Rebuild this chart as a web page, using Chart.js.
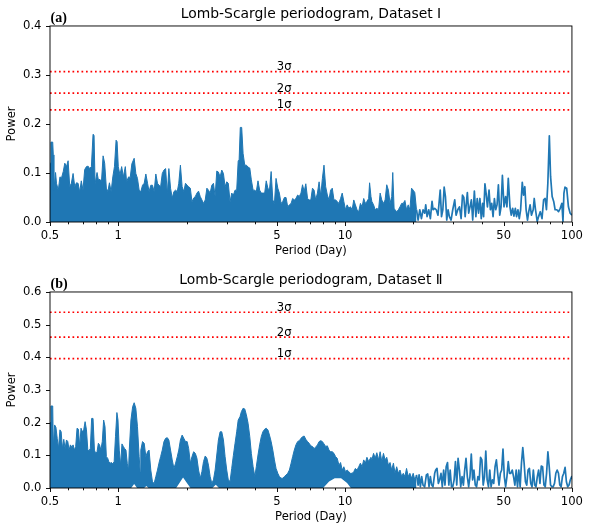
<!DOCTYPE html>
<html><head><meta charset="utf-8">
<script src="https://cdn.jsdelivr.net/npm/chart.js@4.4.1/dist/chart.umd.min.js"></script>
<style>
html,body{margin:0;padding:0;background:#fff;}
#wrap{position:relative;width:590px;height:527px;overflow:hidden;}
canvas{position:absolute;left:0;}
#cA{top:0;} #cB{top:266px;}
</style></head><body>
<div id="wrap"><canvas id="cA" width="590" height="261"></canvas><canvas id="cB" width="590" height="261"></canvas></div>
<script>
// ---- axis ticks / labels ----
const majorTicks = [0.5, 1, 5, 10, 50, 100];
const minorTicks = [0.6, 0.7, 0.8, 0.9, 2, 3, 4, 6, 7, 8, 9, 20, 30, 40, 60, 70, 80, 90];
const sigmaLabels = ['1σ', '2σ', '3σ'];
const titleA = 'Lomb-Scargle periodogram, Dataset Ⅰ';
const titleB = 'Lomb-Scargle periodogram, Dataset Ⅱ';

// ---- Dataset I : significance levels ----
const sigmaA = [0.229, 0.263, 0.307];
// dense part (0.5 - 20.6 d), periods and power
const periodFillA = [0.500,0.505,0.514,0.517,0.520,0.529,0.534,0.544,0.553,0.562,0.572,0.581,0.591,0.601,0.611,0.621,0.632,0.643,0.654,0.665,0.676,0.687,0.699,0.711,0.724,0.736,0.748,0.761,0.774,0.782,0.790,0.806,0.817,0.830,0.843,0.857,0.871,0.886,0.900,0.914,0.930,0.946,0.962,0.978,0.988,1.000,1.017,1.035,1.053,1.074,1.088,1.110,1.129,1.148,1.175,1.195,1.215,1.236,1.257,1.279,1.301,1.323,1.346,1.367,1.391,1.415,1.439,1.464,1.489,1.511,1.537,1.563,1.590,1.617,1.645,1.671,1.700,1.729,1.759,1.789,1.820,1.848,1.879,1.912,1.945,1.978,2.012,2.043,2.078,2.113,2.149,2.186,2.222,2.259,2.298,2.337,2.376,2.417,2.458,2.498,2.541,2.584,2.628,2.673,2.718,2.763,2.811,2.859,2.908,2.957,3.007,3.055,3.110,3.163,3.217,3.272,3.327,3.378,3.410,3.450,3.500,3.550,3.610,3.670,3.735,3.800,3.860,3.930,4.000,4.060,4.130,4.200,4.270,4.340,4.420,4.490,4.567,4.640,4.720,4.800,4.880,4.960,5.050,5.130,5.220,5.310,5.400,5.490,5.584,5.680,5.780,5.870,5.970,6.070,6.175,6.280,6.390,6.490,6.600,6.710,6.830,6.940,7.060,7.180,7.300,7.420,7.550,7.680,7.810,7.940,8.070,8.210,8.350,8.490,8.630,8.780,8.930,9.080,9.230,9.390,9.550,9.710,9.870,10.04,10.21,10.38,10.56,10.74,10.92,11.10,11.29,11.48,11.68,11.88,12.08,12.28,12.48,12.70,12.82,13.00,13.12,13.35,13.57,13.80,14.04,14.27,14.51,14.76,15.01,15.26,15.52,15.78,16.05,16.22,16.44,16.60,16.88,17.17,17.46,17.75,18.05,18.35,18.66,18.98,19.30,19.63,19.96,20.29,20.64];
const powerFillA = [0.120,0.163,0.163,0.137,0.065,0.101,0.079,0.065,0.092,0.090,0.103,0.120,0.113,0.125,0.072,0.079,0.099,0.072,0.080,0.079,0.061,0.084,0.065,0.107,0.113,0.114,0.109,0.113,0.179,0.177,0.078,0.101,0.086,0.087,0.082,0.135,0.120,0.069,0.062,0.080,0.062,0.092,0.113,0.167,0.164,0.113,0.096,0.113,0.092,0.113,0.082,0.092,0.091,0.119,0.130,0.099,0.089,0.065,0.062,0.075,0.079,0.098,0.079,0.062,0.075,0.075,0.062,0.098,0.079,0.075,0.072,0.099,0.106,0.109,0.057,0.109,0.069,0.049,0.062,0.065,0.062,0.079,0.116,0.072,0.062,0.079,0.075,0.072,0.069,0.041,0.049,0.052,0.059,0.063,0.052,0.045,0.038,0.045,0.069,0.065,0.059,0.075,0.079,0.052,0.104,0.102,0.092,0.106,0.099,0.072,0.082,0.079,0.041,0.059,0.055,0.065,0.065,0.125,0.126,0.193,0.193,0.140,0.116,0.116,0.112,0.110,0.086,0.065,0.065,0.062,0.084,0.065,0.059,0.059,0.059,0.084,0.069,0.065,0.103,0.045,0.038,0.089,0.069,0.059,0.038,0.042,0.050,0.050,0.031,0.035,0.038,0.048,0.045,0.048,0.055,0.052,0.059,0.076,0.062,0.078,0.048,0.045,0.045,0.069,0.065,0.045,0.059,0.082,0.053,0.089,0.116,0.072,0.055,0.045,0.065,0.069,0.045,0.045,0.042,0.038,0.048,0.059,0.042,0.025,0.035,0.028,0.031,0.025,0.045,0.035,0.025,0.021,0.038,0.031,0.048,0.038,0.042,0.048,0.080,0.052,0.042,0.035,0.025,0.028,0.025,0.059,0.045,0.038,0.045,0.076,0.065,0.038,0.052,0.101,0.028,0.025,0.021,0.025,0.031,0.038,0.038,0.044,0.025,0.035,0.025,0.069,0.065,0.060,0.025];
// resolved part (20.6 - 100 d)
const periodLineA = [20.64,20.98,21.34,21.70,22.07,22.44,22.67,22.98,23.37,23.76,24.17,24.42,24.83,25.23,25.67,26.26,26.61,26.97,27.33,27.69,28.06,28.44,28.82,29.32,29.82,30.43,30.85,31.38,31.92,32.47,32.92,33.37,33.83,34.12,34.59,35.06,35.54,36.03,36.52,37.14,37.72,38.24,38.76,39.29,39.83,40.38,40.79,41.35,41.83,42.41,43.10,43.70,44.30,44.90,45.52,46.13,46.76,47.40,48.05,48.70,49.37,50.17,51.0,51.7,52.4,53.3,54.0,54.8,55.5,56.3,57.0,57.8,58.6,59.4,60.4,61.2,62.0,62.8,63.7,64.5,65.4,66.3,67.5,68.2,69.1,70.3,71.3,72.5,73.8,75.0,76.2,77.2,78.3,79.5,80.5,81.8,83.1,84.3,85.8,87.3,88.8,90.3,91.3,92.2,93.2,94.8,96.5,98.2,100];
const powerLineA = [0.025,0.004,0.025,0.007,0.025,0.018,0.035,0.011,0.025,0.007,0.042,0.025,0.028,0.025,0.014,0.065,0.011,0.025,0.071,0.052,0.004,0.025,0.011,0.004,0.025,0.045,0.014,0.025,0.031,0.007,0.055,0.050,0.011,0.031,0.060,0.018,0.031,0.045,0.004,0.063,0.011,0.048,0.018,0.048,0.007,0.038,0.011,0.078,0.059,0.031,0.065,0.025,0.038,0.011,0.048,0.025,0.035,0.076,0.014,0.031,0.095,0.031,0.052,0.031,0.089,0.031,0.014,0.028,0.012,0.028,0.011,0.025,0.007,0.025,0.081,0.055,0.072,0.025,0.004,0.021,0.035,0.014,0.025,0.048,0.025,0.001,0.011,0.021,0.007,0.045,0.048,0.025,0.079,0.176,0.093,0.052,0.042,0.025,0.025,0.021,0.028,0.038,0.001,0.059,0.071,0.069,0.031,0.018,0.014];

// ---- Dataset II ----
const sigmaB = [0.396, 0.462, 0.538];
const periodFillB = [0.500,0.505,0.514,0.517,0.524,0.531,0.538,0.545,0.553,0.560,0.567,0.575,0.583,0.591,0.599,0.607,0.615,0.624,0.632,0.641,0.649,0.658,0.667,0.676,0.685,0.694,0.704,0.714,0.724,0.734,0.742,0.753,0.763,0.774,0.785,0.795,0.806,0.817,0.827,0.838,0.850,0.862,0.874,0.886,0.898,0.908,0.921,0.934,0.946,0.959,0.972,0.986,0.997,1.010,1.024,1.038,1.053,1.066,1.081,1.096,1.110,1.118,1.137,1.157,1.175,1.195,1.215,1.236,1.249,1.257,1.279,1.301,1.323,1.346,1.367,1.391,1.415,1.439,1.464,1.489,1.511,1.537,1.563,1.590,1.617,1.645,1.671,1.700,1.729,1.759,1.789,1.820,1.848,1.879,1.912,1.945,1.978,2.012,2.043,2.078,2.113,2.149,2.186,2.222,2.259,2.298,2.337,2.376,2.417,2.458,2.498,2.541,2.584,2.628,2.673,2.718,2.763,2.811,2.859,2.908,2.957,3.007,3.055,3.110,3.163,3.217,3.272,3.327,3.378,3.440,3.490,3.550,3.610,3.670,3.735,3.800,3.860,3.930,4.000,4.060,4.130,4.200,4.270,4.340,4.420,4.490,4.567,4.640,4.720,4.800,4.880,4.960,5.050,5.130,5.220,5.310,5.400,5.490,5.584,5.680,5.780,5.870,5.970,6.070,6.175,6.280,6.390,6.490,6.600,6.710,6.830,6.940,7.060,7.180,7.300,7.420,7.550,7.680,7.810,7.940,8.070,8.210,8.350,8.490,8.630,8.780,8.930,9.080,9.230,9.390,9.550,9.710,9.870,10.04,10.21,10.38,10.56,10.74,10.92,11.10,11.29,11.48,11.68,11.88,12.08,12.28,12.48,12.70,13.00,13.12,13.35,13.57,13.80,14.04,14.27,14.51,14.76,15.01,15.26,15.52,15.78,16.05,16.33,16.60,16.88,17.17,17.46,17.75,18.05,18.35,18.66,18.98,19.30,19.63,19.96,20.29,20.64];
const powerFillB = [0.200,0.251,0.251,0.126,0.193,0.186,0.152,0.121,0.178,0.172,0.121,0.149,0.121,0.147,0.142,0.116,0.132,0.125,0.132,0.116,0.127,0.183,0.180,0.127,0.183,0.172,0.178,0.203,0.178,0.116,0.114,0.121,0.213,0.213,0.116,0.106,0.111,0.137,0.132,0.116,0.142,0.208,0.188,0.096,0.091,0.081,0.076,0.078,0.074,0.081,0.157,0.231,0.208,0.116,0.070,0.135,0.127,0.121,0.116,0.074,0.055,0.116,0.208,0.249,0.261,0.244,0.188,0.096,0.050,0.116,0.142,0.137,0.096,0.111,0.116,0.055,0.019,0.014,0.035,0.055,0.076,0.096,0.116,0.142,0.152,0.154,0.147,0.116,0.086,0.060,0.076,0.096,0.116,0.147,0.162,0.152,0.142,0.142,0.121,0.076,0.096,0.111,0.106,0.091,0.055,0.030,0.050,0.081,0.098,0.091,0.070,0.035,0.014,0.025,0.055,0.101,0.147,0.172,0.172,0.147,0.096,0.055,0.025,0.020,0.060,0.100,0.137,0.172,0.208,0.218,0.234,0.244,0.242,0.224,0.198,0.157,0.106,0.065,0.035,0.065,0.101,0.132,0.157,0.172,0.180,0.183,0.178,0.162,0.142,0.116,0.086,0.060,0.045,0.035,0.030,0.030,0.035,0.040,0.045,0.055,0.076,0.096,0.116,0.132,0.142,0.145,0.152,0.157,0.159,0.149,0.142,0.137,0.129,0.127,0.121,0.125,0.132,0.142,0.145,0.142,0.135,0.127,0.129,0.116,0.111,0.111,0.106,0.096,0.091,0.070,0.078,0.055,0.065,0.050,0.055,0.050,0.045,0.045,0.050,0.060,0.055,0.065,0.076,0.065,0.086,0.076,0.094,0.081,0.094,0.086,0.106,0.091,0.108,0.086,0.111,0.081,0.106,0.086,0.094,0.070,0.078,0.055,0.076,0.045,0.065,0.045,0.055,0.035,0.045,0.035,0.060,0.035,0.045,0.030,0.045,0.025,0.040];
// lower edge of the dense band (where minima lift off zero)
const periodFloorB = [0.50,1.14,1.175,1.21,1.30,1.33,1.36,1.80,1.93,2.08,2.60,2.69,2.78,8.00,8.50,9.00,9.60,10.20,10.60,20.64];
const powerFloorB  = [0,0,0.012,0,0,0.006,0,0,0.032,0,0,0.010,0,0,0.020,0.030,0.030,0.015,0,0];
const periodLineB = [20.64,20.98,21.19,21.47,21.76,22.06,22.43,22.82,23.13,23.44,23.76,24.08,24.41,24.83,25.08,25.42,25.77,26.11,26.47,26.82,27.19,27.56,27.90,28.28,28.66,29.05,29.44,29.83,30.24,30.65,31.06,31.48,31.91,32.34,32.78,33.22,33.67,34.12,34.58,35.05,35.52,36.00,36.49,36.98,37.48,37.99,38.50,39.02,39.55,40.08,40.62,41.17,41.71,42.28,42.85,43.43,44.01,44.61,45.21,45.82,46.44,47.06,47.70,48.35,49.00,49.66,50.33,51.01,51.70,52.40,53.10,53.82,54.55,55.28,56.03,56.78,57.55,58.33,59.11,59.91,60.72,61.54,62.37,63.21,64.07,64.93,65.81,66.69,67.59,68.51,69.43,70.37,71.32,72.28,73.26,74.25,75.25,76.27,77.30,78.35,79.41,80.48,81.57,82.67,83.79,84.92,86.07,87.23,88.41,89.60,90.81,92.04,93.28,94.54,95.81,97.11,98.42,99.75,100];
const powerLineB = [0.040,0.009,0.040,0.004,0.035,0.009,0.004,0.040,0.043,0.004,0.035,0.009,0.004,0.045,0.055,0.060,0.014,0.025,0.045,0.004,0.055,0.009,0.065,0.078,0.009,0.055,0.004,0.004,0.025,0.081,0.009,0.091,0.055,0.004,0.035,0.009,0.055,0.091,0.035,0.004,0.035,0.104,0.025,0.055,0.009,0.004,0.035,0.025,0.094,0.086,0.009,0.035,0.113,0.025,0.004,0.055,0.004,0.025,0.014,0.065,0.086,0.045,0.009,0.045,0.055,0.119,0.035,0.004,0.035,0.081,0.045,0.045,0.055,0.035,0.009,0.055,0.004,0.055,0.004,0.076,0.124,0.076,0.019,0.009,0.055,0.060,0.014,0.004,0.055,0.009,0.004,0.035,0.055,0.014,0.067,0.065,0.009,0.004,0.045,0.111,0.065,0.009,0.004,0.004,0.014,0.045,0.055,0.045,0.009,0.004,0.035,0.045,0.063,0.019,0.004,0.009,0.025,0.035,0.030];

// ---------------------------------------------------------------
const BLUE = '#1f77b4';
const FS = 11.6;
Chart.defaults.font.family = "'DejaVu Sans', sans-serif";
Chart.defaults.color = '#000';

const zip = (xs, ys) => xs.map((x, i) => ({x: x, y: ys[i]}));

function decorPlugin(panelLabel, sigmaLevels) {
  return {
    id: 'decor',
    afterDraw(chart) {
      const {ctx, chartArea: a, scales: {x, y}} = chart;
      ctx.save();
      ctx.strokeStyle = '#000';
      ctx.lineWidth = 0.93;
      ctx.strokeRect(a.left, a.top, a.right - a.left, a.bottom - a.top);
      ctx.beginPath();
      majorTicks.forEach(v => { const px = Math.round(x.getPixelForValue(v)) + 0.5; ctx.moveTo(px, a.bottom); ctx.lineTo(px, a.bottom + 4); });
      minorTicks.forEach(v => { const px = Math.round(x.getPixelForValue(v)) + 0.5; ctx.moveTo(px, a.bottom); ctx.lineTo(px, a.bottom + 2.3); });
      y.ticks.forEach(t => { const py = Math.round(y.getPixelForValue(t.value)) + 0.5; ctx.moveTo(a.left, py); ctx.lineTo(a.left - 4, py); });
      ctx.stroke();
      // significance labels
      ctx.fillStyle = '#000';
      ctx.font = FS + "px 'DejaVu Sans'";
      ctx.textAlign = 'left';
      ctx.textBaseline = 'alphabetic';
      sigmaLevels.forEach((lv, i) => {
        ctx.fillText(sigmaLabels[i], x.getPixelForValue(5), y.getPixelForValue(lv) - 1.5);
      });
      // panel label
      ctx.font = "bold 14px 'Liberation Serif', serif";
      ctx.fillText(panelLabel, a.left + 0.5, a.top - 3.5);
      ctx.restore();
    }
  };
}

function makeChart(id, title, panelLabel, yMax, sigmaLevels, fillP, fillV, lineP, lineV, floorP, floorV) {
  const datasets = [];
  sigmaLevels.forEach(lv => {
    datasets.push({
      data: [{x: 0.5, y: lv}, {x: 100, y: lv}],
      borderColor: 'red', borderWidth: 1.7, borderDash: [1.7, 2.8], borderCapStyle: 'butt',
      pointRadius: 0, fill: false
    });
  });
  datasets.push({
    data: zip(lineP, lineV), borderColor: BLUE, borderWidth: 1.7, borderJoinStyle: 'round',
    pointRadius: 0, fill: false
  });
  const fillIndex = datasets.length;
  datasets.push({
    data: zip(fillP, fillV), borderColor: BLUE, backgroundColor: BLUE, borderWidth: 1,
    borderJoinStyle: 'bevel', pointRadius: 0,
    fill: floorP ? fillIndex + 1 : 'origin'
  });
  if (floorP) {
    datasets.push({
      data: zip(floorP, floorV), borderColor: 'rgba(0,0,0,0)', borderWidth: 0,
      pointRadius: 0, fill: false
    });
  }
  return new Chart(document.getElementById(id), {
    type: 'line',
    data: {datasets: datasets},
    options: {
      responsive: false,
      animation: false,
      parsing: false,
      normalized: true,
      events: [],
      layout: {padding: {left: 0, right: 13, top: 0, bottom: 0}},
      plugins: {
        legend: {display: false},
        tooltip: {enabled: false},
        title: {
          display: true, text: title, fullSize: false, color: '#000',
          font: {size: 13.9, weight: 'normal'}, padding: {top: 5.7, bottom: 3.6}
        }
      },
      scales: {
        x: {
          type: 'logarithmic', position: 'bottom', min: 0.5, max: 100,
          grid: {display: false, drawTicks: false}, border: {display: false},
          ticks: {padding: 7, autoSkip: false, maxRotation: 0, font: {size: FS}, color: '#000',
                  callback: v => String(v)},
          afterBuildTicks: s => { s.ticks = majorTicks.map(v => ({value: v})); },
          afterFit: s => { s.height = 39; },
          title: {display: true, text: 'Period (Day)', color: '#000', font: {size: FS}, padding: {top: 0, bottom: 3}}
        },
        y: {
          type: 'linear', position: 'left', min: 0, max: yMax,
          grid: {display: false, drawTicks: false}, border: {display: false},
          ticks: {stepSize: 0.1, padding: 8.5, font: {size: FS}, color: '#000', callback: v => v.toFixed(1)},
          afterFit: s => { s.width = 50; },
          title: {display: true, text: 'Power', color: '#000', font: {size: FS}, padding: {top: 5.5, bottom: 0}}
        }
      }
    },
    plugins: [decorPlugin(panelLabel, sigmaLevels)]
  });
}

makeChart('cA', titleA, '(a)', 0.4, sigmaA, periodFillA, powerFillA, periodLineA, powerLineA, null, null);
makeChart('cB', titleB, '(b)', 0.6, sigmaB, periodFillB, powerFillB, periodLineB, powerLineB, periodFloorB, powerFloorB);
</script>
</body></html>
